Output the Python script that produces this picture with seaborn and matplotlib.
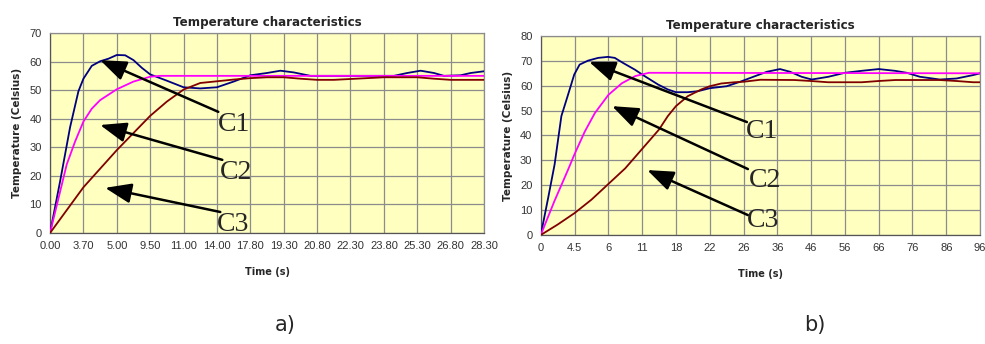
import matplotlib
matplotlib.use("Agg")
import matplotlib.pyplot as plt
import seaborn as sns
import pandas as pd

# tick labels (category axis, equally spaced)
labels_a = ["0.00", "3.70", "5.00", "9.50", "11.00", "14.00", "17.80", "19.30",
            "20.80", "22.30", "23.80", "25.30", "26.80", "28.30"]
labels_b = ["0", "4.5", "6", "11", "18", "22", "26", "36", "46", "56", "66",
            "76", "86", "96"]

# chart a) curves, x in category-axis units
c1_a_x = [0, 0.3, 0.6, 0.85, 1.0, 1.25, 1.5, 1.75, 2.0, 2.25, 2.5, 2.75, 3.0, 3.5,
          4.0, 4.5, 5.0, 5.5, 6.0, 6.5, 6.9, 7.3, 7.8, 10.3, 10.7, 11.1, 11.5,
          11.8, 12.3, 12.6, 13.0]
c1_a_y = [0, 18, 37, 49.6, 54, 58.5, 60.1, 61, 62.3, 62.2, 60.5, 57.8, 55.5, 53.3,
          51, 50.6, 51, 53, 55.2, 56, 56.8, 56.2, 55, 55, 56, 56.8, 56, 55, 55.2,
          56, 56.6]
c2_a_x = [0, 0.25, 0.5, 0.75, 1.0, 1.25, 1.5, 2.0, 2.5, 3.0, 3.3, 13.0]
c2_a_y = [0, 12, 24, 32, 39, 43.5, 46.5, 50.3, 53, 54.7, 55, 55]
c3_a_x = [0, 0.5, 1.0, 1.5, 2.0, 2.5, 3.0, 3.5, 4.0, 4.5, 5.0, 5.5, 6.0, 6.5, 7.0,
          7.5, 8.0, 8.5, 9.0, 9.5, 10.0, 11.0, 11.5, 12.0, 13.0]
c3_a_y = [0, 8, 16, 22.5, 29, 35, 41, 46, 50.2, 52.5, 53.1, 53.7, 54.2, 54.5, 54.5,
          54.0, 53.6, 53.6, 53.9, 54.2, 54.5, 54.5, 54.0, 53.6, 53.6]

# chart b) curves
c1_b_x = [0, 0.22, 0.41, 0.61, 0.81, 0.99, 1.15, 1.4, 1.7, 1.99, 2.19, 2.43, 2.78,
          3.07, 3.47, 3.76, 4.0, 4.35, 4.65, 5.0, 5.5, 5.9, 6.29, 6.69, 7.08,
          7.38, 7.72, 8.02, 8.51, 9.0, 9.5, 10.0, 10.48, 10.83, 11.22, 11.81,
          12.3, 12.8, 13.0]
c1_b_y = [0, 15, 28.4, 47.8, 56.5, 64.5, 68.5, 70.1, 71.2, 71.6, 71.2, 69.2, 66.5,
          63.9, 60.5, 58.5, 57.4, 57.4, 57.8, 59, 59.8, 61.6, 63.6, 65.6, 66.7,
          65.6, 63.6, 62.5, 63.6, 65.2, 66, 66.7, 66, 65.2, 63.6, 62.5, 62.9,
          64.3, 65]
c2_b_x = [0, 0.4, 0.8, 1.0, 1.3, 1.6, 2.0, 2.4, 2.8, 3.2, 13.0]
c2_b_y = [0, 13.5, 26, 32.5, 41.5, 49, 56.3, 61, 63.9, 65.2, 65]
c3_b_x = [0, 0.5, 1.0, 1.5, 2.0, 2.5, 3.0, 3.5, 3.76, 4.0, 4.35, 4.75, 5.0, 5.34,
          5.73, 6.0, 6.5, 7.5, 8.0, 8.5, 9.5, 10.0, 10.5, 11.8, 12.3, 12.8, 13.0]
c3_b_y = [0, 4.2, 8.8, 14.2, 20.5, 26.8, 34.6, 42.4, 47.8, 51.8, 55.8, 58.5, 59.8,
          60.9, 61.4, 61.6, 62.4, 62.3, 61.9, 61.4, 61.4, 61.9, 62.3, 62.3, 61.9,
          61.4, 61.4]

sns.set_style("white")
plt.rcParams["font.family"] = ["Liberation Sans", "DejaVu Sans"]

colors = {"C1": "#000080", "C2": "#FF00FF", "C3": "#800000"}


def frame(xs, ys, name):
    return pd.DataFrame({"x": xs, "y": ys, "curve": name})


fig = plt.figure(figsize=(9.85, 3.44), dpi=100)
ax_a = fig.add_axes([0.0508, 0.3227, 0.4406, 0.5814])
ax_b = fig.add_axes([0.549, 0.3169, 0.446, 0.5785])

charts = [
    (ax_a, labels_a, 70, [frame(c1_a_x, c1_a_y, "C1"), frame(c2_a_x, c2_a_y, "C2"),
                          frame(c3_a_x, c3_a_y, "C3")],
     [((1.5, 60.5), (5.04, 42.4), (5.5, 38.0)),
      ((1.5, 37.8), (5.16, 25.6), (5.56, 21.2)),
      ((1.65, 15.8), (5.1, 7.35), (5.47, 3.0))], "a)", 0.29),
    (ax_b, labels_b, 80, [frame(c1_b_x, c1_b_y, "C1"), frame(c2_b_x, c2_b_y, "C2"),
                          frame(c3_b_x, c3_b_y, "C3")],
     [((1.43, 69.6), (6.1, 45.4), (6.55, 41.6)),
      ((2.11, 51.8), (6.13, 26.5), (6.64, 21.9)),
      ((3.15, 26.1), (6.13, 8.0), (6.58, 5.8))], "b)", 0.827),
]

for ax, labels, ymax, frames, arrows, tag, tagx in charts:
    ax.set_facecolor("#FFFFC0")
    data = pd.concat(frames, ignore_index=True)
    sns.lineplot(data=data, x="x", y="y", hue="curve", palette=colors,
                 sort=False, estimator=None, lw=1.3, legend=False, ax=ax, zorder=3)
    ax.set_xlim(0, len(labels) - 1)
    ax.set_ylim(0, ymax)
    ax.set_xticks(range(len(labels)))
    ax.set_xticklabels(labels)
    ax.set_yticks(range(0, ymax + 1, 10))
    ax.grid(True, color="#8c8c8c", lw=0.9)
    ax.set_axisbelow(True)
    for s in ["top", "right"]:
        ax.spines[s].set_color("#8c8c8c")
        ax.spines[s].set_linewidth(0.9)
    for s in ["left", "bottom"]:
        ax.spines[s].set_color("#555555")
        ax.spines[s].set_linewidth(0.9)
    ax.tick_params(direction="out", length=3, width=0.9, color="#555555",
                   labelsize=8, labelcolor="#333333", pad=3)
    ax.set_title("Temperature characteristics", fontsize=8.6, fontweight="bold",
                 family="DejaVu Sans", pad=5)
    ax.set_xlabel("Time (s)", fontsize=7, fontweight="bold", family="DejaVu Sans",
                  labelpad=11)
    ax.set_ylabel("Temperature (Celsius)", fontsize=7.5, fontweight="bold",
                  family="DejaVu Sans", labelpad=5)
    for (head, tail, txt), name in zip(arrows, ["C1", "C2", "C3"]):
        ax.annotate("", xy=head, xytext=tail, zorder=5,
                    arrowprops=dict(arrowstyle="-|>,head_length=1.0,head_width=0.38",
                                    mutation_scale=16, lw=1.8, color="black",
                                    shrinkA=0, shrinkB=0))
        ax.text(txt[0], txt[1], name, fontsize=20, family="Liberation Serif",
                ha="center", va="center", zorder=6)
    fig.text(tagx, 0.055, tag, fontsize=15, family="DejaVu Sans", ha="center",
             va="center")

fig.savefig("out.png", dpi=100)
